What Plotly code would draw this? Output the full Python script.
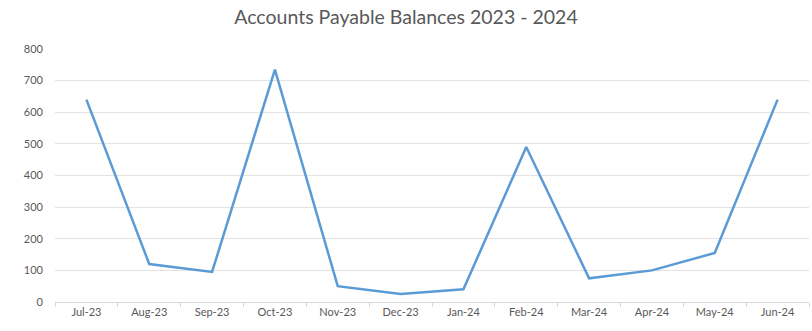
import plotly.graph_objects as go

months = ["Jul-23", "Aug-23", "Sep-23", "Oct-23", "Nov-23", "Dec-23",
          "Jan-24", "Feb-24", "Mar-24", "Apr-24", "May-24", "Jun-24"]
balances = [640, 120, 95, 735, 50, 25, 40, 490, 75, 100, 155, 640]
y_ticks = [0, 100, 200, 300, 400, 500, 600, 700, 800]

fig = go.Figure(
    go.Scatter(
        x=months,
        y=balances,
        mode="lines",
        line=dict(color="#5b9bd5", width=2.5),
    )
)

fig.update_layout(
    width=812,
    height=331,
    margin=dict(l=55, r=3, t=49, b=29),
    paper_bgcolor="white",
    plot_bgcolor="white",
    showlegend=False,
    title=dict(
        text="Accounts Payable Balances 2023 - 2024",
        x=0.5,
        xanchor="center",
        y=0.948,
        yanchor="middle",
        font=dict(family="Lato, Open Sans, sans-serif", size=19.5, color="#595959"),
    ),
    font=dict(family="Lato, Open Sans, sans-serif", size=11, color="#595959"),
)

fig.update_xaxes(
    type="category",
    range=[-0.5, len(months) - 0.5],
    showgrid=False,
    showline=True,
    linecolor="#d9d9d9",
    linewidth=1,
    ticks="outside",
    tickson="boundaries",
    ticklen=4,
    tickcolor="#d9d9d9",
    tickfont=dict(size=11, color="#595959"),
)

fig.update_yaxes(
    range=[0, 800],
    tickvals=y_ticks,
    showgrid=True,
    gridcolor="#e3e3e3",
    gridwidth=1,
    zeroline=False,
    showline=False,
    ticklabelstandoff=11,
    tickfont=dict(size=11, color="#595959"),
)

fig.write_html("out.html")
